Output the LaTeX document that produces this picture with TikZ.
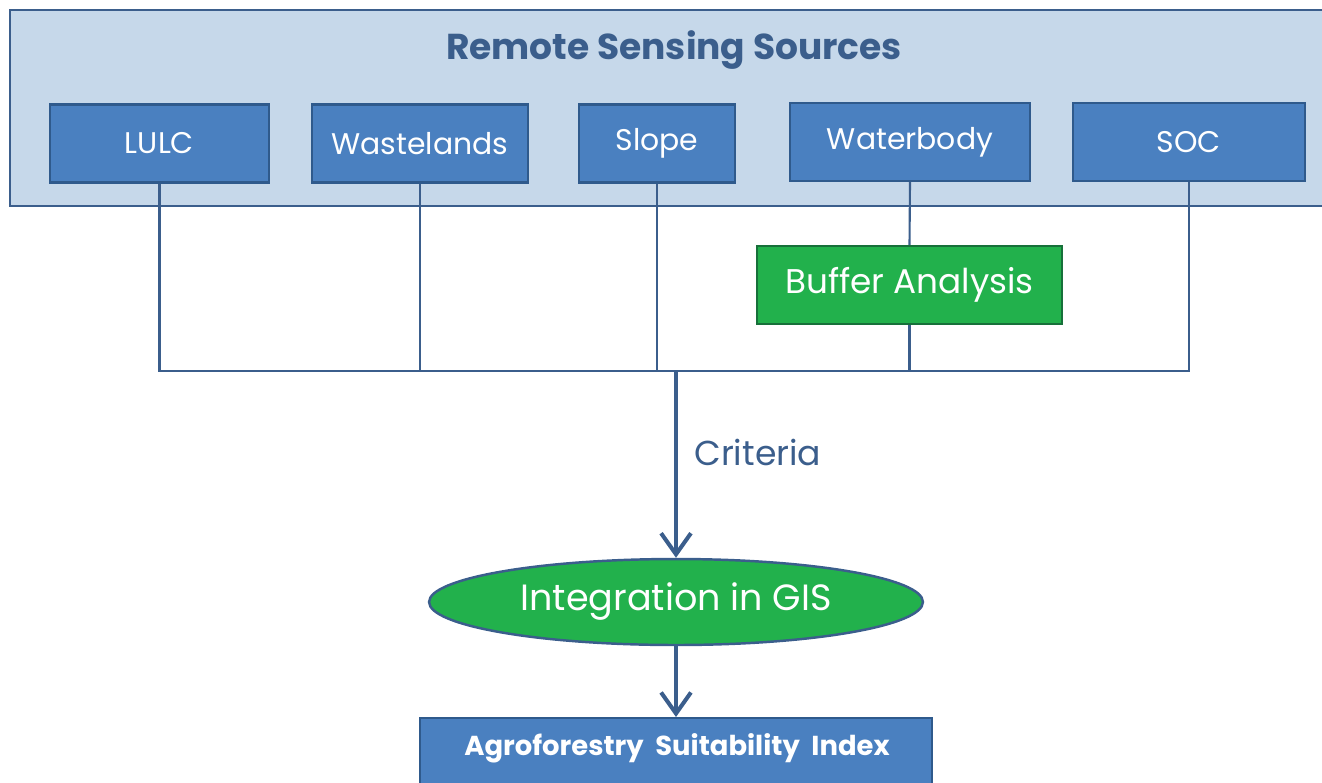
\documentclass[tikz,border=0pt]{standalone}
\usepackage{fontspec}
\setmainfont{Poppins}
\usepackage{xcolor}
\usepackage{tikz}
\usetikzlibrary{shapes.geometric,arrows.meta}

\definecolor{frameblue}{HTML}{3B5E8C}
\definecolor{paleblue}{HTML}{C6D8EA}
\definecolor{boxblue}{HTML}{4A80C0}
\definecolor{boxedge}{HTML}{2F5A8C}
\definecolor{gisgreen}{HTML}{22B14C}
\definecolor{darkgreen}{HTML}{17703A}

\tikzset{
  srcbox/.style={draw=boxedge, line width=1.4pt, fill=boxblue, text=white,
    font=\fontsize{17}{20}\selectfont, minimum height=1.56cm, inner sep=0pt},
  link/.style={draw=frameblue, line width=1.2pt},
  flow/.style={draw=frameblue, line width=2.3pt, -{Straight Barb[length=12pt,width=17pt]}}
}

\begin{document}
\begin{tikzpicture}[x=0.02cm, y=-0.02cm]

\useasboundingbox (0,0) rectangle (1322,782);

\draw[draw=frameblue, line width=1.4pt, fill=paleblue] (10,10) rectangle (1340,206);

\node[text=frameblue, font=\bfseries\fontsize{20.5}{24}\selectfont] (title) at (674,50) {Remote Sensing Sources};

\node[srcbox, minimum width=4.38cm] (lulc) at (159.5,143.5) {LULC};
\node[srcbox, minimum width=4.32cm] (waste) at (420,143.5) {Wastelands};
\node[srcbox, minimum width=3.12cm] (slope) at (657,143.5) {Slope};
\node[srcbox, minimum width=4.8cm] (water) at (910,142) {Waterbody};
\node[srcbox, minimum width=4.64cm] (soc) at (1189,142) {SOC};

\node[srcbox, fill=gisgreen, draw=darkgreen, minimum width=6.1cm,
  font=\fontsize{19.5}{22}\selectfont] (buffer) at (909.5,285) {Buffer Analysis};

\coordinate (hub) at (676,371);

\draw[link] (lulc.south) -- (lulc.south |- hub) -- (soc.south |- hub) -- (soc.south);
\foreach \n in {waste,slope}
  \draw[link] (\n.south) -- (\n.south |- hub);
\draw[link] (water.south) -- (buffer.north);
\draw[link] (buffer.south) -- (buffer.south |- hub);

\node[ellipse, draw=frameblue, line width=1.4pt, fill=gisgreen, text=white,
  font=\fontsize{20.8}{24}\selectfont, minimum width=9.88cm, minimum height=1.72cm, inner sep=0pt]
  (gis) at (676,602) {Integration in GIS};

\draw[flow] (hub) -- (gis.north);
\node[anchor=west, text=frameblue, font=\fontsize{19.7}{23}\selectfont, inner sep=0pt] (crit) at (694,452) {Criteria};

\node[draw=boxedge, line width=1.4pt, fill=boxblue, anchor=north, minimum width=10.24cm,
  minimum height=2cm, inner sep=0pt] (asi) at (676,717) {};
\node[text=white, font=\bfseries\fontsize{15.6}{18}\selectfont, inner sep=0pt] (asitext) at (677,748)
  {Agroforestry\ \ Suitability\ \ Index};

\draw[flow] (gis.south) -- (asi.north);

\end{tikzpicture}
\end{document}
